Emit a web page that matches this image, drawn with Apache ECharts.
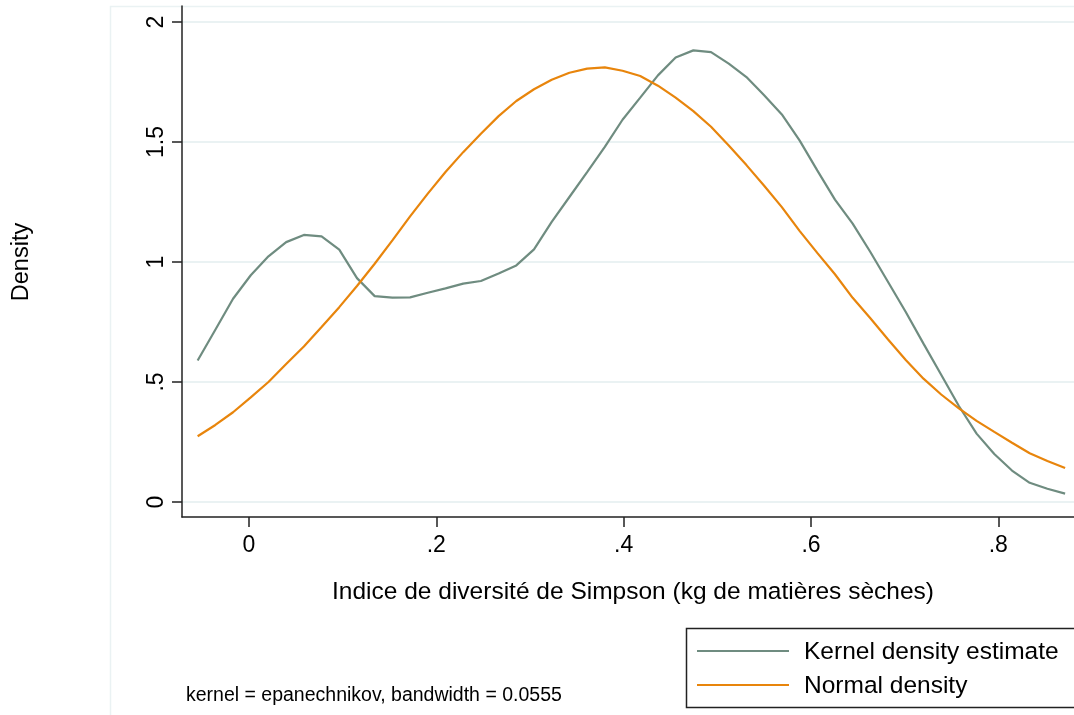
<!DOCTYPE html>
<html>
<head>
<meta charset="utf-8">
<script src="https://cdn.jsdelivr.net/npm/echarts@6/dist/echarts.min.js"></script>
<style>
  html, body { margin: 0; padding: 0; background: #fff; }
  #chart { width: 1074px; height: 715px; }
</style>
</head>
<body>
<div id="chart"></div>
<script>
// evaluation points (x) of the kdensity
const xPoints = [
  -0.0548, -0.0359, -0.0170, 0.0019, 0.0208, 0.0397, 0.0586, 0.0775, 0.0964, 0.1153,
  0.1342, 0.1531, 0.1720, 0.1909, 0.2098, 0.2287, 0.2476, 0.2665, 0.2854, 0.3043,
  0.3232, 0.3421, 0.3610, 0.3799, 0.3988, 0.4177, 0.4366, 0.4555, 0.4744, 0.4933,
  0.5122, 0.5311, 0.5500, 0.5689, 0.5878, 0.6067, 0.6256, 0.6445, 0.6634, 0.6823,
  0.7012, 0.7201, 0.7390, 0.7579, 0.7768, 0.7957, 0.8146, 0.8335, 0.8524, 0.8713
]
const kernelDensity = [
  0.590, 0.718, 0.847, 0.945, 1.024, 1.083, 1.113, 1.107, 1.052, 0.933,
  0.858, 0.852, 0.853, 0.872, 0.890, 0.910, 0.921, 0.952, 0.986, 1.053,
  1.167, 1.271, 1.375, 1.480, 1.593, 1.685, 1.778, 1.852, 1.882, 1.875,
  1.827, 1.771, 1.695, 1.615, 1.507, 1.382, 1.260, 1.160, 1.042, 0.917,
  0.792, 0.660, 0.530, 0.400, 0.285, 0.200, 0.131, 0.080, 0.055, 0.035
]
const normalDensity = [
  0.274, 0.321, 0.374, 0.436, 0.500, 0.575, 0.648, 0.729, 0.812, 0.900,
  0.993, 1.090, 1.190, 1.285, 1.375, 1.458, 1.535, 1.608, 1.671, 1.720,
  1.760, 1.789, 1.806, 1.811, 1.797, 1.775, 1.735, 1.685, 1.629, 1.564,
  1.486, 1.404, 1.318, 1.229, 1.130, 1.038, 0.949, 0.851, 0.766, 0.677,
  0.592, 0.514, 0.448, 0.390, 0.338, 0.292, 0.247, 0.203, 0.171, 0.142
]
const xTicks = [0, 0.2, 0.4, 0.6, 0.8]
const yTicks = [0, 0.5, 1, 1.5, 2]

const kernelColor = '#6f8c80'
const normalColor = '#e8850c'
const gridColor = '#eaf2f3'
const font = '"Liberation Sans", Arial, sans-serif'

const fmt = v => v === 0 ? '0' : String(v).replace(/^0\./, '.')

const chart = echarts.init(document.getElementById('chart'))
chart.setOption({
  animation: false,
  backgroundColor: '#fff',
  grid: { left: 182, right: 0, top: 6, bottom: 198 },
  xAxis: {
    type: 'value',
    min: -0.0715,
    max: 0.8808,
    axisLine: { show: true, onZero: false, lineStyle: { color: '#222', width: 1.5 } },
    axisTick: { show: true, length: 10, customValues: xTicks, lineStyle: { color: '#222', width: 1.5 } },
    axisLabel: { customValues: xTicks, formatter: fmt, fontFamily: font, fontSize: 23, color: '#000', margin: 17 },
    splitLine: { show: false }
  },
  yAxis: {
    type: 'value',
    min: -0.0625,
    max: 2.067,
    axisLine: { show: true, onZero: false, lineStyle: { color: '#222', width: 1.5 } },
    axisTick: { show: true, length: 10, customValues: yTicks, lineStyle: { color: '#222', width: 1.5 } },
    axisLabel: { customValues: yTicks, formatter: fmt, rotate: 90, fontFamily: font, fontSize: 23, color: '#000', margin: 14 },
    splitLine: { show: true, lineStyle: { color: gridColor, width: 2 } }
  },
  series: [
    {
      name: 'Kernel density estimate',
      type: 'line',
      data: xPoints.map((x, i) => [x, kernelDensity[i]]),
      showSymbol: false,
      lineStyle: { color: kernelColor, width: 2.2 },
      itemStyle: { color: kernelColor },
      z: 3
    },
    {
      name: 'Normal density',
      type: 'line',
      data: xPoints.map((x, i) => [x, normalDensity[i]]),
      showSymbol: false,
      lineStyle: { color: normalColor, width: 2.2 },
      itemStyle: { color: normalColor },
      z: 4
    }
  ],
  graphic: [
    // faint outer plot region
    { type: 'rect', shape: { x: 110.5, y: 6.5, width: 1000, height: 800 }, style: { fill: null, stroke: gridColor, lineWidth: 1.5 }, z: -1, silent: true },
    // axis titles
    { type: 'text', x: 633, y: 592, style: { text: 'Indice de diversité de Simpson (kg de matières sèches)', font: '24.5px ' + font, fill: '#000', textAlign: 'center', textVerticalAlign: 'middle' }, silent: true },
    { type: 'text', x: 22, y: 262, rotation: Math.PI / 2, style: { text: 'Density', font: '23.5px ' + font, fill: '#000', textAlign: 'center', textVerticalAlign: 'middle' }, silent: true },
    // legend box
    { type: 'rect', shape: { x: 686.5, y: 628.5, width: 420, height: 79 }, style: { fill: '#fff', stroke: '#222', lineWidth: 1.5 }, silent: true },
    { type: 'line', shape: { x1: 697, y1: 651, x2: 789, y2: 651 }, style: { stroke: kernelColor, lineWidth: 2.2 }, silent: true },
    { type: 'text', x: 804, y: 652, style: { text: 'Kernel density estimate', font: '24.5px ' + font, fill: '#000', textVerticalAlign: 'middle' }, silent: true },
    { type: 'line', shape: { x1: 697, y1: 685, x2: 789, y2: 685 }, style: { stroke: normalColor, lineWidth: 2.2 }, silent: true },
    { type: 'text', x: 804, y: 686, style: { text: 'Normal density', font: '24.5px ' + font, fill: '#000', textVerticalAlign: 'middle' }, silent: true },
    // note
    { type: 'text', x: 186, y: 696, style: { text: 'kernel = epanechnikov, bandwidth = 0.0555', font: '19.5px ' + font, fill: '#000', textVerticalAlign: 'middle' }, silent: true }
  ]
})
</script>
</body>
</html>
